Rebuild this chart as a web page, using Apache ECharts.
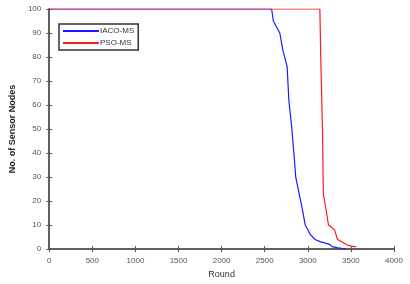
<!DOCTYPE html>
<html>
<head>
<meta charset="utf-8">
<script src="https://cdn.jsdelivr.net/npm/echarts@6/dist/echarts.min.js"></script>
<style>
  html, body { margin: 0; padding: 0; background: #fff; }
  #chart { width: 410px; height: 284px; }
</style>
</head>
<body>
<div id="chart"></div>
<script>
  // rounds vs. alive nodes
  var iacoRounds = [0, 2580, 2600, 2675, 2710, 2760, 2780, 2815, 2845, 2860, 2900, 2940, 2970, 3030, 3085, 3150, 3255, 3280, 3350, 3445]
  var iacoNodes = [100, 100, 95, 90, 83, 76, 62, 50, 37, 30, 23, 16, 10, 6, 4, 3, 2, 1, 0.5, 0]
  var psoRounds = [0, 3140, 3150, 3170, 3180, 3200, 3240, 3280, 3310, 3345, 3465, 3540, 3560]
  var psoNodes = [100, 100, 80, 50, 23, 19, 10, 9, 8, 4, 1.6, 1, 1]
  var seriesNames = ['IACO-MS', 'PSO-MS']

  function pairs(xs, ys) {
    return xs.map(function (x, i) { return [x, ys[i]] })
  }

  var myChart = echarts.init(document.getElementById('chart'))
  var axisColor = '#555'
  var labelStyle = { color: '#555', fontSize: 8, fontFamily: 'Liberation Sans', formatter: function (v) { return String(v) } }

  myChart.setOption({
    animation: false,
    color: ['#1a1aff', '#ff1a1a'],
    grid: { left: 40, right: 16, top: 9, bottom: 32 },
    legend: {
      orient: 'vertical',
      left: 59,
      top: 24,
      data: seriesNames,
      icon: 'rect',
      itemWidth: 36,
      itemHeight: 2,
      itemGap: 4,
      padding: [3, 4, 3, 4],
      borderColor: '#333',
      borderWidth: 1.5,
      textStyle: { fontSize: 8, color: '#333', fontFamily: 'Liberation Sans', padding: [0, 0, 0, -4] }
    },
    xAxis: [
      {
        type: 'value', min: 0, max: 4000, interval: 500,
        name: 'Round', nameLocation: 'middle', nameGap: 17,
        nameTextStyle: { fontSize: 9, color: '#333', fontFamily: 'Liberation Sans' },
        axisLine: { lineStyle: { color: axisColor, width: 1.5 } },
        axisTick: { inside: true, length: 3, lineStyle: { color: axisColor } },
        axisLabel: labelStyle,
        splitLine: { show: false }
      },
      {
        type: 'value', position: 'top', min: 0, max: 4000, interval: 500,
        axisLine: { show: true, lineStyle: { color: axisColor, width: 1.5 } },
        axisTick: { inside: true, length: 3, lineStyle: { color: axisColor } },
        axisLabel: { show: false },
        splitLine: { show: false }
      }
    ],
    yAxis: [
      {
        type: 'value', min: 0, max: 100, interval: 10,
        name: 'No. of Sensor Nodes', nameLocation: 'middle', nameGap: 29,
        nameTextStyle: { fontSize: 9, color: '#222', fontWeight: 'bold', fontFamily: 'Liberation Sans' },
        axisLine: { show: true, lineStyle: { color: axisColor, width: 1.5 } },
        axisTick: { show: true, inside: true, length: 3, lineStyle: { color: axisColor } },
        axisLabel: labelStyle,
        splitLine: { show: false }
      },
      {
        type: 'value', position: 'right', min: 0, max: 100, interval: 10,
        axisLine: { show: true, lineStyle: { color: axisColor, width: 1.5 } },
        axisTick: { show: true, inside: true, length: 3, lineStyle: { color: axisColor } },
        axisLabel: { show: false },
        splitLine: { show: false }
      }
    ],
    series: [
      {
        name: seriesNames[0], type: 'line', showSymbol: false, z: 3,
        lineStyle: { width: 1.2 },
        data: pairs(iacoRounds, iacoNodes)
      },
      {
        name: seriesNames[1], type: 'line', showSymbol: false, z: 4,
        lineStyle: { width: 1.2 },
        data: pairs(psoRounds, psoNodes)
      }
    ]
  })
</script>
</body>
</html>
